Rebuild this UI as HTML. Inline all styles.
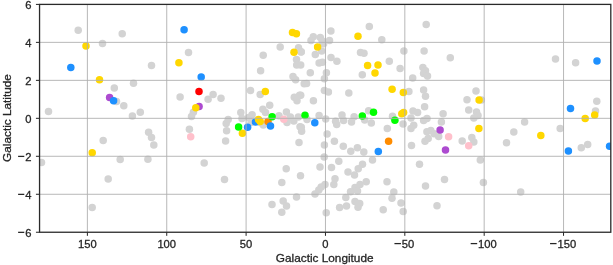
<!DOCTYPE html><html><head><meta charset="utf-8"><style>html,body{margin:0;padding:0;background:#fff;}svg{display:block;filter:blur(0.3px);} text{font-family:"Liberation Sans",sans-serif;fill:#262626;stroke:#262626;stroke-width:0.3px;}</style></head><body>
<svg width="613" height="265" viewBox="0 0 613 265">
<rect width="613" height="265" fill="#fff"/>
<defs><clipPath id="c"><rect x="39.55" y="4.40" width="571.25" height="227.84"/></clipPath></defs>
<g clip-path="url(#c)">
<g fill="#d3d3d3"><circle cx="78.2" cy="30.2" r="3.75"/><circle cx="122.2" cy="33.8" r="3.75"/><circle cx="102.5" cy="43.5" r="3.75"/><circle cx="151.5" cy="65.6" r="3.75"/><circle cx="114.3" cy="87.9" r="3.75"/><circle cx="133.5" cy="83.3" r="3.75"/><circle cx="116.5" cy="101.5" r="3.75"/><circle cx="123.8" cy="105.8" r="3.75"/><circle cx="48.5" cy="111.5" r="3.75"/><circle cx="132.4" cy="116.0" r="3.75"/><circle cx="140.3" cy="112.2" r="3.75"/><circle cx="103.2" cy="140.5" r="3.75"/><circle cx="120.2" cy="159.5" r="3.75"/><circle cx="108.2" cy="179.0" r="3.75"/><circle cx="41.5" cy="162.5" r="3.75"/><circle cx="148.6" cy="132.2" r="3.75"/><circle cx="151.5" cy="137.6" r="3.75"/><circle cx="153.8" cy="145.1" r="3.75"/><circle cx="147.9" cy="159.2" r="3.75"/><circle cx="92.2" cy="207.5" r="3.75"/><circle cx="188.5" cy="52.5" r="3.75"/><circle cx="263.2" cy="55.2" r="3.75"/><circle cx="280.2" cy="47.0" r="3.75"/><circle cx="298.5" cy="47.7" r="3.75"/><circle cx="301.1" cy="51.7" r="3.75"/><circle cx="296.5" cy="59.5" r="3.75"/><circle cx="296.7" cy="65.0" r="3.75"/><circle cx="260.6" cy="70.8" r="3.75"/><circle cx="293.0" cy="76.5" r="3.75"/><circle cx="295.6" cy="79.8" r="3.75"/><circle cx="304.2" cy="83.8" r="3.75"/><circle cx="213.1" cy="94.6" r="3.75"/><circle cx="180.1" cy="96.9" r="3.75"/><circle cx="208.1" cy="99.2" r="3.75"/><circle cx="221.0" cy="98.2" r="3.75"/><circle cx="193.4" cy="112.3" r="3.75"/><circle cx="191.5" cy="116.5" r="3.75"/><circle cx="189.4" cy="129.3" r="3.75"/><circle cx="250.5" cy="90.6" r="3.75"/><circle cx="260.2" cy="94.5" r="3.75"/><circle cx="294.3" cy="97.3" r="3.75"/><circle cx="299.6" cy="95.3" r="3.75"/><circle cx="297.0" cy="100.8" r="3.75"/><circle cx="269.7" cy="105.3" r="3.75"/><circle cx="262.9" cy="109.2" r="3.75"/><circle cx="265.5" cy="112.4" r="3.75"/><circle cx="240.8" cy="112.5" r="3.75"/><circle cx="252.1" cy="114.7" r="3.75"/><circle cx="242.0" cy="118.5" r="3.75"/><circle cx="248.8" cy="117.6" r="3.75"/><circle cx="228.2" cy="119.4" r="3.75"/><circle cx="226.2" cy="123.4" r="3.75"/><circle cx="226.6" cy="130.8" r="3.75"/><circle cx="225.6" cy="141.0" r="3.75"/><circle cx="251.0" cy="122.6" r="3.75"/><circle cx="260.0" cy="122.6" r="3.75"/><circle cx="263.3" cy="124.9" r="3.75"/><circle cx="279.0" cy="115.8" r="3.75"/><circle cx="286.4" cy="111.9" r="3.75"/><circle cx="290.4" cy="117.0" r="3.75"/><circle cx="293.8" cy="120.9" r="3.75"/><circle cx="298.3" cy="117.0" r="3.75"/><circle cx="287.0" cy="122.6" r="3.75"/><circle cx="300.0" cy="126.8" r="3.75"/><circle cx="301.6" cy="131.3" r="3.75"/><circle cx="299.0" cy="142.5" r="3.75"/><circle cx="204.2" cy="163.0" r="3.75"/><circle cx="224.5" cy="179.5" r="3.75"/><circle cx="286.2" cy="168.8" r="3.75"/><circle cx="300.5" cy="175.8" r="3.75"/><circle cx="281.8" cy="182.5" r="3.75"/><circle cx="296.5" cy="197.0" r="3.75"/><circle cx="283.2" cy="201.0" r="3.75"/><circle cx="286.5" cy="206.0" r="3.75"/><circle cx="272.0" cy="204.6" r="3.75"/><circle cx="281.8" cy="212.2" r="3.75"/><circle cx="313.3" cy="36.8" r="3.75"/><circle cx="320.3" cy="37.5" r="3.75"/><circle cx="311.0" cy="40.5" r="3.75"/><circle cx="322.2" cy="41.1" r="3.75"/><circle cx="329.5" cy="40.5" r="3.75"/><circle cx="330.9" cy="30.9" r="3.75"/><circle cx="323.6" cy="43.8" r="3.75"/><circle cx="321.7" cy="51.1" r="3.75"/><circle cx="315.3" cy="54.6" r="3.75"/><circle cx="301.2" cy="52.0" r="3.75"/><circle cx="331.0" cy="57.5" r="3.75"/><circle cx="336.9" cy="61.3" r="3.75"/><circle cx="319.1" cy="62.9" r="3.75"/><circle cx="322.4" cy="62.3" r="3.75"/><circle cx="300.7" cy="64.9" r="3.75"/><circle cx="310.3" cy="72.8" r="3.75"/><circle cx="326.4" cy="72.8" r="3.75"/><circle cx="324.4" cy="78.8" r="3.75"/><circle cx="306.6" cy="83.4" r="3.75"/><circle cx="324.4" cy="90.4" r="3.75"/><circle cx="328.4" cy="92.0" r="3.75"/><circle cx="348.8" cy="93.0" r="3.75"/><circle cx="300.7" cy="95.3" r="3.75"/><circle cx="313.4" cy="100.8" r="3.75"/><circle cx="319.1" cy="115.5" r="3.75"/><circle cx="325.7" cy="119.0" r="3.75"/><circle cx="342.0" cy="115.1" r="3.75"/><circle cx="354.1" cy="116.8" r="3.75"/><circle cx="368.6" cy="110.7" r="3.75"/><circle cx="307.0" cy="119.5" r="3.75"/><circle cx="335.6" cy="121.2" r="3.75"/><circle cx="336.7" cy="124.5" r="3.75"/><circle cx="343.6" cy="120.6" r="3.75"/><circle cx="351.5" cy="122.1" r="3.75"/><circle cx="364.7" cy="119.9" r="3.75"/><circle cx="371.3" cy="122.9" r="3.75"/><circle cx="301.3" cy="127.2" r="3.75"/><circle cx="327.1" cy="134.0" r="3.75"/><circle cx="334.4" cy="141.2" r="3.75"/><circle cx="324.4" cy="145.0" r="3.75"/><circle cx="343.3" cy="146.3" r="3.75"/><circle cx="350.8" cy="151.2" r="3.75"/><circle cx="357.4" cy="147.7" r="3.75"/><circle cx="363.8" cy="152.0" r="3.75"/><circle cx="324.2" cy="157.0" r="3.75"/><circle cx="338.8" cy="161.2" r="3.75"/><circle cx="320.0" cy="167.0" r="3.75"/><circle cx="331.5" cy="167.5" r="3.75"/><circle cx="362.5" cy="164.2" r="3.75"/><circle cx="358.2" cy="168.8" r="3.75"/><circle cx="372.5" cy="160.0" r="3.75"/><circle cx="348.0" cy="172.0" r="3.75"/><circle cx="354.5" cy="175.0" r="3.75"/><circle cx="335.0" cy="178.8" r="3.75"/><circle cx="333.8" cy="184.5" r="3.75"/><circle cx="325.0" cy="184.5" r="3.75"/><circle cx="321.2" cy="187.0" r="3.75"/><circle cx="318.8" cy="190.0" r="3.75"/><circle cx="315.0" cy="193.9" r="3.75"/><circle cx="366.2" cy="181.8" r="3.75"/><circle cx="360.0" cy="184.5" r="3.75"/><circle cx="355.0" cy="187.5" r="3.75"/><circle cx="350.5" cy="191.8" r="3.75"/><circle cx="357.5" cy="191.0" r="3.75"/><circle cx="387.0" cy="181.8" r="3.75"/><circle cx="393.8" cy="192.1" r="3.75"/><circle cx="392.0" cy="198.2" r="3.75"/><circle cx="401.0" cy="203.0" r="3.75"/><circle cx="345.8" cy="197.6" r="3.75"/><circle cx="355.0" cy="201.4" r="3.75"/><circle cx="359.7" cy="203.5" r="3.75"/><circle cx="358.0" cy="207.2" r="3.75"/><circle cx="346.5" cy="206.0" r="3.75"/><circle cx="339.6" cy="207.5" r="3.75"/><circle cx="326.2" cy="212.8" r="3.75"/><circle cx="383.2" cy="209.8" r="3.75"/><circle cx="403.2" cy="211.5" r="3.75"/><circle cx="437.0" cy="205.8" r="3.75"/><circle cx="411.5" cy="145.5" r="3.75"/><circle cx="425.0" cy="141.2" r="3.75"/><circle cx="419.5" cy="164.2" r="3.75"/><circle cx="444.5" cy="179.5" r="3.75"/><circle cx="425.5" cy="186.0" r="3.75"/><circle cx="369.3" cy="26.6" r="3.75"/><circle cx="381.8" cy="39.7" r="3.75"/><circle cx="360.5" cy="52.5" r="3.75"/><circle cx="364.0" cy="53.2" r="3.75"/><circle cx="389.3" cy="61.3" r="3.75"/><circle cx="426.2" cy="24.4" r="3.75"/><circle cx="403.9" cy="51.0" r="3.75"/><circle cx="424.1" cy="51.0" r="3.75"/><circle cx="450.3" cy="57.7" r="3.75"/><circle cx="362.3" cy="74.8" r="3.75"/><circle cx="400.1" cy="68.5" r="3.75"/><circle cx="412.7" cy="78.1" r="3.75"/><circle cx="422.9" cy="67.5" r="3.75"/><circle cx="425.5" cy="70.8" r="3.75"/><circle cx="423.6" cy="73.5" r="3.75"/><circle cx="427.5" cy="76.1" r="3.75"/><circle cx="408.9" cy="91.6" r="3.75"/><circle cx="423.6" cy="90.0" r="3.75"/><circle cx="425.5" cy="96.2" r="3.75"/><circle cx="424.6" cy="106.8" r="3.75"/><circle cx="443.1" cy="113.7" r="3.75"/><circle cx="413.0" cy="110.9" r="3.75"/><circle cx="417.6" cy="112.5" r="3.75"/><circle cx="392.5" cy="116.3" r="3.75"/><circle cx="427.0" cy="118.5" r="3.75"/><circle cx="411.0" cy="118.0" r="3.75"/><circle cx="403.1" cy="123.9" r="3.75"/><circle cx="413.7" cy="125.2" r="3.75"/><circle cx="411.0" cy="128.5" r="3.75"/><circle cx="423.6" cy="120.6" r="3.75"/><circle cx="441.4" cy="122.1" r="3.75"/><circle cx="387.3" cy="128.5" r="3.75"/><circle cx="426.9" cy="131.8" r="3.75"/><circle cx="430.8" cy="130.5" r="3.75"/><circle cx="434.1" cy="133.8" r="3.75"/><circle cx="438.7" cy="136.4" r="3.75"/><circle cx="428.2" cy="138.4" r="3.75"/><circle cx="476.0" cy="91.0" r="3.75"/><circle cx="467.0" cy="99.8" r="3.75"/><circle cx="481.4" cy="100.0" r="3.75"/><circle cx="468.7" cy="110.0" r="3.75"/><circle cx="476.5" cy="112.0" r="3.75"/><circle cx="478.0" cy="115.5" r="3.75"/><circle cx="473.8" cy="118.0" r="3.75"/><circle cx="524.6" cy="122.0" r="3.75"/><circle cx="560.2" cy="128.5" r="3.75"/><circle cx="596.8" cy="101.2" r="3.75"/><circle cx="595.5" cy="111.0" r="3.75"/><circle cx="575.6" cy="62.8" r="3.75"/><circle cx="555.5" cy="59.0" r="3.75"/><circle cx="513.8" cy="132.1" r="3.75"/><circle cx="506.5" cy="142.7" r="3.75"/><circle cx="462.2" cy="141.1" r="3.75"/><circle cx="471.8" cy="137.5" r="3.75"/><circle cx="473.8" cy="141.9" r="3.75"/><circle cx="480.3" cy="160.0" r="3.75"/><circle cx="483.4" cy="182.6" r="3.75"/><circle cx="581.3" cy="147.8" r="3.75"/><circle cx="587.7" cy="144.5" r="3.75"/><circle cx="520.7" cy="192.1" r="3.75"/></g>
<g fill="#ffc0cb"><circle cx="190.7" cy="136.8" r="3.75"/><circle cx="283.8" cy="119.2" r="3.75"/><circle cx="448.6" cy="136.8" r="3.75"/><circle cx="468.7" cy="145.8" r="3.75"/></g>
<g fill="#ad4bd0"><circle cx="109.6" cy="97.4" r="3.75"/><circle cx="199.1" cy="106.5" r="3.75"/><circle cx="440.1" cy="130.1" r="3.75"/><circle cx="445.5" cy="150.0" r="3.75"/></g>
<g fill="#ff0000"><circle cx="199.0" cy="91.6" r="3.75"/></g>
<g fill="#ff8c00"><circle cx="268.0" cy="121.5" r="3.75"/><circle cx="388.6" cy="141.2" r="3.75"/></g>
<g fill="#1e90ff"><circle cx="184.1" cy="29.7" r="3.75"/><circle cx="70.8" cy="67.5" r="3.75"/><circle cx="113.6" cy="100.8" r="3.75"/><circle cx="201.2" cy="76.9" r="3.75"/><circle cx="255.5" cy="122.1" r="3.75"/><circle cx="270.5" cy="125.9" r="3.75"/><circle cx="247.6" cy="127.2" r="3.75"/><circle cx="314.8" cy="122.7" r="3.75"/><circle cx="378.3" cy="151.4" r="3.75"/><circle cx="570.5" cy="108.5" r="3.75"/><circle cx="568.4" cy="150.9" r="3.75"/><circle cx="597.0" cy="61.0" r="3.75"/><circle cx="609.6" cy="146.3" r="3.75"/></g>
<g fill="#ffd700"><circle cx="86.0" cy="46.0" r="3.75"/><circle cx="99.5" cy="79.8" r="3.75"/><circle cx="92.2" cy="152.8" r="3.75"/><circle cx="178.9" cy="62.8" r="3.75"/><circle cx="195.8" cy="107.8" r="3.75"/><circle cx="292.5" cy="32.4" r="3.75"/><circle cx="296.4" cy="33.8" r="3.75"/><circle cx="294.0" cy="52.2" r="3.75"/><circle cx="317.6" cy="47.1" r="3.75"/><circle cx="265.3" cy="91.6" r="3.75"/><circle cx="258.5" cy="119.4" r="3.75"/><circle cx="260.2" cy="121.6" r="3.75"/><circle cx="242.4" cy="133.2" r="3.75"/><circle cx="358.0" cy="36.2" r="3.75"/><circle cx="367.6" cy="65.6" r="3.75"/><circle cx="378.0" cy="64.9" r="3.75"/><circle cx="375.0" cy="73.1" r="3.75"/><circle cx="392.1" cy="89.2" r="3.75"/><circle cx="403.3" cy="92.6" r="3.75"/><circle cx="403.6" cy="112.4" r="3.75"/><circle cx="401.8" cy="113.8" r="3.75"/><circle cx="479.1" cy="99.9" r="3.75"/><circle cx="478.9" cy="128.5" r="3.75"/><circle cx="540.8" cy="135.5" r="3.75"/><circle cx="585.2" cy="118.5" r="3.75"/><circle cx="594.7" cy="114.9" r="3.75"/></g>
<g fill="#00ff00"><circle cx="238.6" cy="127.1" r="3.75"/><circle cx="272.1" cy="116.8" r="3.75"/><circle cx="305.0" cy="115.2" r="3.75"/><circle cx="362.3" cy="116.0" r="3.75"/><circle cx="373.5" cy="112.3" r="3.75"/><circle cx="394.9" cy="120.2" r="3.75"/></g>
</g>
<path d="M87.38 4.40V232.24M166.74 4.40V232.24M246.10 4.40V232.24M325.46 4.40V232.24M404.82 4.40V232.24M484.18 4.40V232.24M563.54 4.40V232.24M39.55 42.37H610.80M39.55 80.35H610.80M39.55 118.32H610.80M39.55 156.29H610.80M39.55 194.27H610.80" stroke="#b0b0b0" stroke-width="0.9" fill="none"/>
<path d="M87.38 232.24v3.6M166.74 232.24v3.6M246.10 232.24v3.6M325.46 232.24v3.6M404.82 232.24v3.6M484.18 232.24v3.6M563.54 232.24v3.6M39.55 4.40h-3.6M39.55 42.37h-3.6M39.55 80.35h-3.6M39.55 118.32h-3.6M39.55 156.29h-3.6M39.55 194.27h-3.6M39.55 232.24h-3.6" stroke="#222" stroke-width="1.0" fill="none"/>
<rect x="39.55" y="4.40" width="571.25" height="227.84" stroke="#2a2a2a" stroke-width="1.3" fill="none"/>
<text x="87.38" y="248.0" font-size="11.2" text-anchor="middle">150</text>
<text x="166.74" y="248.0" font-size="11.2" text-anchor="middle">100</text>
<text x="246.10" y="248.0" font-size="11.2" text-anchor="middle">50</text>
<text x="325.46" y="248.0" font-size="11.2" text-anchor="middle">0</text>
<rect x="394.44" y="242.97" width="6.50" height="1.25" fill="#262626"/>
<text x="401.84" y="248.0" font-size="11.2">50</text>
<rect x="470.69" y="242.97" width="6.50" height="1.25" fill="#262626"/>
<text x="478.09" y="248.0" font-size="11.2">100</text>
<rect x="550.05" y="242.97" width="6.50" height="1.25" fill="#262626"/>
<text x="557.45" y="248.0" font-size="11.2">150</text>
<text x="31.4" y="8.90" font-size="11.2" text-anchor="end">6</text>
<text x="31.4" y="46.87" font-size="11.2" text-anchor="end">4</text>
<text x="31.4" y="84.85" font-size="11.2" text-anchor="end">2</text>
<text x="31.4" y="122.82" font-size="11.2" text-anchor="end">0</text>
<rect x="18.1" y="155.77" width="6.2" height="1.25" fill="#262626"/>
<text x="31.4" y="160.79" font-size="11.2" text-anchor="end">2</text>
<rect x="18.1" y="193.74" width="6.2" height="1.25" fill="#262626"/>
<text x="31.4" y="198.77" font-size="11.2" text-anchor="end">4</text>
<rect x="18.1" y="231.72" width="6.2" height="1.25" fill="#262626"/>
<text x="31.4" y="236.74" font-size="11.2" text-anchor="end">6</text>
<text x="324.7" y="262.2" font-size="11.8" text-anchor="middle">Galactic Longitude</text>
<text transform="translate(10.7 118) rotate(-90)" x="0" y="0" font-size="11.8" text-anchor="middle">Galactic Latitude</text>
</svg></body></html>
